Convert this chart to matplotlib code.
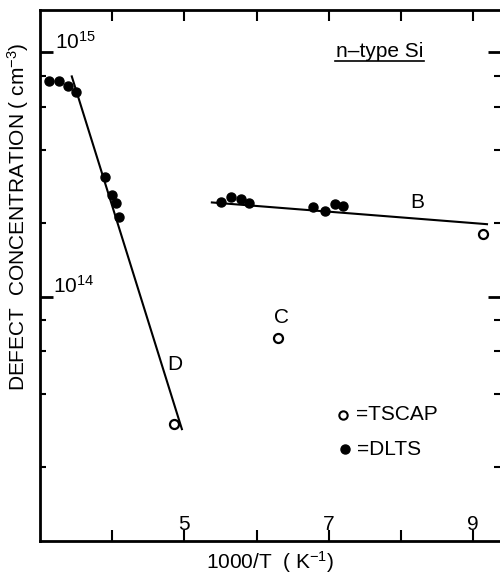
import matplotlib
matplotlib.use("Agg")
import matplotlib.pyplot as plt
import numpy as np

plt.rcParams['font.family'] = ['Liberation Sans', 'DejaVu Sans']
plt.rcParams['mathtext.default'] = 'regular'

# DLTS points (filled)
dlts_x = [3.13, 3.27, 3.39, 3.50, 3.90, 4.00, 4.05, 4.10,
          5.50, 5.65, 5.79, 5.90, 6.78, 6.94, 7.08, 7.20]
dlts_y = [7.6e14, 7.6e14, 7.3e14, 6.9e14, 3.1e14, 2.6e14, 2.42e14, 2.11e14,
          2.44e14, 2.55e14, 2.51e14, 2.42e14, 2.33e14, 2.25e14, 2.40e14, 2.36e14]

# TSCAP points (open)
tscap_x = [4.85, 6.29, 9.14]
tscap_y = [3.0e13, 6.8e13, 1.81e14]

# fitted lines
line_d_x = [3.44, 4.965]
line_d_y = [7.97e14, 2.87e13]
line_b_x = [5.38, 9.19]
line_b_y = [2.43e14, 1.98e14]

xticks = [4, 5, 6, 7, 8, 9]
xtick_labels = ['', '5', '', '7', '', '9']

fig = plt.figure(figsize=(5, 5.75), dpi=100)
ax = fig.add_axes([0.08, 0.0591, 0.92, 0.9235])

ax.plot(line_d_x, line_d_y, color='black', lw=1.5)
ax.plot(line_b_x, line_b_y, color='black', lw=1.5)
ax.plot(dlts_x, dlts_y, 'o', color='black', ms=6.5)
ax.plot(tscap_x, tscap_y, 'o', mfc='white', mec='black', mew=1.6, ms=6.5)

ax.set_yscale('log')
ax.set_xlim(3, 9.37)
ax.set_ylim(1e13, 1.49e15)

ax.set_xticks(xticks)
ax.set_xticklabels(xtick_labels, fontsize=15)
ax.set_yticks([1e14, 1e15])
ax.set_yticklabels([])
ax.set_yticks([2e13, 4e13, 6e13, 8e13, 2e14, 4e14, 6e14, 8e14], minor=True)
ax.yaxis.set_minor_formatter(matplotlib.ticker.NullFormatter())
ax.tick_params(axis='x', which='both', direction='in', top=True, bottom=True,
               length=8, width=1.5, pad=-19)
ax.tick_params(axis='y', which='major', direction='in', left=True, right=True,
               length=9, width=2)
ax.tick_params(axis='y', which='minor', direction='in', left=True, right=True,
               length=4, width=1.5)

for s in ['left', 'top', 'bottom']:
    ax.spines[s].set_linewidth(2)
ax.spines['right'].set_visible(False)

ax.text(3.21, 1.0e15, '$10^{15}$', fontsize=15, ha='left', va='bottom')
ax.text(3.18, 1.0e14, '$10^{14}$', fontsize=15, ha='left', va='bottom')

ax.text(4.76, 5.3e13, 'D', fontsize=15, ha='left', va='center')
ax.text(6.35, 8.2e13, 'C', fontsize=15, ha='center', va='center')
ax.text(8.22, 2.43e14, 'B', fontsize=15, ha='center', va='center')

ax.text(7.71, 1.01e15, 'n\u2013type Si', fontsize=15, ha='center', va='center')
ax.plot([7.09, 8.32], [9.2e14, 9.2e14], color='black', lw=1.2)

ax.plot([7.20], [3.28e13], 'o', mfc='white', mec='black', mew=1.5, ms=6)
ax.text(7.38, 3.28e13, '=TSCAP', fontsize=15, ha='left', va='center')
ax.plot([7.23], [2.38e13], 'o', color='black', ms=6.5)
ax.text(7.39, 2.38e13, '=DLTS', fontsize=15, ha='left', va='center')

ax.set_xlabel('1000/T  ( K$^{-1}$)', fontsize=15, labelpad=6)
ax.set_ylabel('DEFECT  CONCENTRATION ( cm$^{-3}$)', fontsize=15)
ax.yaxis.set_label_coords(-0.02, 0.61)

fig.savefig('out.png', dpi=100)
